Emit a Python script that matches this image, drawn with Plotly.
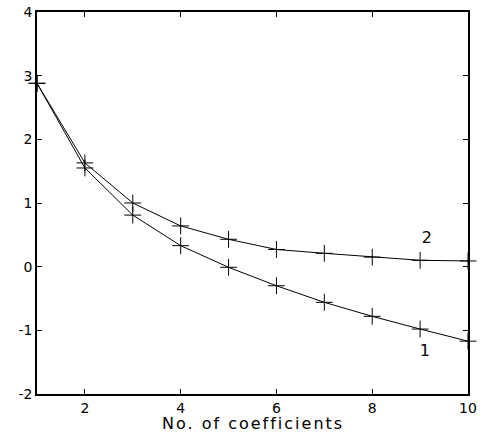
import plotly.graph_objects as go

x_vals = [1, 2, 3, 4, 5, 6, 7, 8, 9, 10]
series1 = [2.88, 1.55, 0.81, 0.33, -0.01, -0.30, -0.56, -0.78, -0.98, -1.17]
series2 = [2.88, 1.63, 1.00, 0.64, 0.43, 0.27, 0.21, 0.15, 0.10, 0.09]
x_ticks = [2, 4, 6, 8, 10]
x_tick_text = ["2", "4", "6", "8", "10"]
y_ticks = [-2, -1, 0, 1, 2, 3, 4]
y_tick_text = ["-2", "-1", "0", "1", "2", "3", "4"]
labels = ["1", "2"]
label_x = [9.1, 9.14]
label_y = [-1.34, 0.43]
x_title = "No. of coefficients"

FONT = "DejaVu Sans, Liberation Sans, Arial, sans-serif"

fig = go.Figure()
for ys in (series1, series2):
    fig.add_trace(go.Scatter(
        x=x_vals, y=ys, mode="lines+markers",
        line=dict(color="black", width=1),
        marker=dict(symbol="cross-thin", size=12, line=dict(color="black", width=1), color="black"),
        showlegend=False, cliponaxis=False, hoverinfo="skip",
    ))

fig.add_trace(go.Scatter(
    x=label_x, y=label_y, mode="text", text=labels,
    textfont=dict(family=FONT, size=16, color="black"),
    showlegend=False, hoverinfo="skip",
))

axis_common = dict(
    showgrid=False, zeroline=False, showline=True, linecolor="black", linewidth=1.5,
    mirror="ticks", ticks="inside", ticklen=5, tickcolor="black", tickwidth=1,
    automargin=False,
    tickfont=dict(family=FONT, size=14, color="black"),
)

fig.update_layout(
    width=487, height=437,
    margin=dict(l=37, r=19, t=12, b=43),
    paper_bgcolor="white", plot_bgcolor="white",
    xaxis=dict(range=[1, 10], tickvals=x_ticks, ticktext=x_tick_text, **axis_common),
    yaxis=dict(range=[-2, 4], tickvals=y_ticks, ticktext=y_tick_text, **axis_common),
    annotations=[dict(
        text='<span style="letter-spacing:2px">' + x_title + '</span>',
        xref="paper", yref="paper", x=0.5, y=-0.108, xanchor="center", yanchor="bottom",
        showarrow=False, font=dict(family=FONT, size=16, color="black"),
    )],
)

fig.write_html("out.html", config={"displayModeBar": False},
               post_script="document.body.style.margin='0';document.body.style.padding='0';")
